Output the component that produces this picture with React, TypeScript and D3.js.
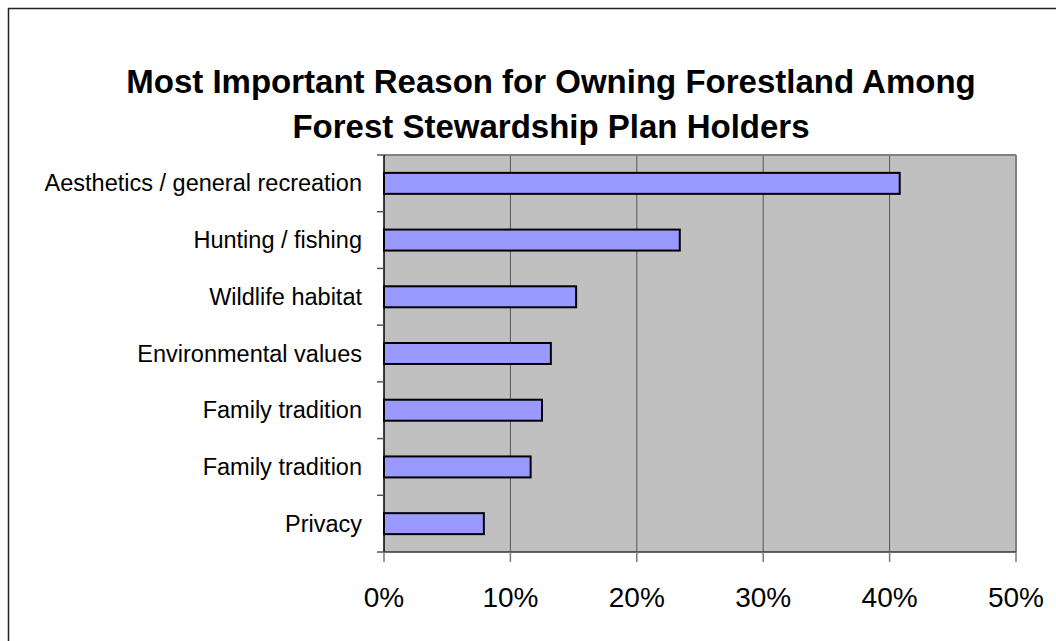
import React from 'react';
import * as d3 from 'd3';

const categories = [
  'Aesthetics / general recreation',
  'Hunting / fishing',
  'Wildlife habitat',
  'Environmental values',
  'Family tradition',
  'Family tradition',
  'Privacy',
];
const values = [0.408, 0.234, 0.152, 0.132, 0.125, 0.116, 0.079];
const xTicks = [0, 0.1, 0.2, 0.3, 0.4, 0.5];
const titleLines = [
  'Most Important Reason for Owning Forestland Among',
  'Forest Stewardship Plan Holders',
];

export default function App() {
  const W = 1056;
  const H = 641;
  const left = 384;
  const right = 1016;
  const top = 155;
  const bottom = 552;
  const font = '"Liberation Sans", Arial, sans-serif';

  const x = d3.scaleLinear().domain([0, 0.5]).range([left, right]);
  const keys = categories.map((_, i) => String(i));
  const y = d3
    .scaleBand<string>()
    .domain(keys)
    .range([top, bottom])
    .paddingInner(0.63)
    .paddingOuter(0.315);
  const step = (bottom - top) / categories.length;
  const fmt = d3.format('.0%');

  return (
    <svg
      width={W}
      height={H}
      style={{ position: 'absolute', left: 0, top: 0, display: 'block' }}
      fontFamily={font}
    >
      <rect x={0} y={0} width={W} height={H} fill="#fff" />
      <rect x={8.5} y={8.5} width={1070} height={660} fill="none" stroke="#222" strokeWidth={1.5} />
      {titleLines.map((t, i) => (
        <text
          key={i}
          x={551}
          y={93 + i * 45}
          textAnchor="middle"
          fontWeight="bold"
          fontSize={33}
          fill="#000"
        >
          {t}
        </text>
      ))}
      <rect x={left} y={top} width={right - left} height={bottom - top} fill="#c0c0c0" />
      {xTicks.slice(1).map((t) => (
        <line key={t} x1={x(t)} x2={x(t)} y1={top} y2={bottom} stroke="#555" strokeWidth={1} />
      ))}
      <line x1={left} x2={right} y1={top} y2={top} stroke="#808080" strokeWidth={2} />
      <line x1={right} x2={right} y1={top} y2={bottom} stroke="#808080" strokeWidth={2} />
      {values.map((v, i) => (
        <rect
          key={i}
          x={x(0)}
          y={y(String(i))}
          width={x(v) - x(0)}
          height={y.bandwidth()}
          fill="#9999ff"
          stroke="#000"
          strokeWidth={2}
        />
      ))}
      <line x1={left} x2={left} y1={top} y2={bottom} stroke="#000" strokeWidth={1.5} />
      <line x1={left} x2={right} y1={bottom} y2={bottom} stroke="#333" strokeWidth={1.5} />
      {d3.range(categories.length + 1).map((i) => (
        <line key={i} x1={left - 7} x2={left} y1={top + i * step} y2={top + i * step} stroke="#555" strokeWidth={1.5} />
      ))}
      {xTicks.map((t) => (
        <line key={t} x1={x(t)} x2={x(t)} y1={bottom} y2={bottom + 10} stroke="#777" strokeWidth={1.5} />
      ))}
      {xTicks.map((t) => (
        <text key={t} x={x(t)} y={607} textAnchor="middle" fontSize={28} fill="#000">
          {fmt(t)}
        </text>
      ))}
      {categories.map((c, i) => (
        <text
          key={i}
          x={362}
          y={(y(String(i)) as number) + y.bandwidth() / 2 + 8}
          textAnchor="end"
          fontSize={23.5}
          fill="#000"
        >
          {c}
        </text>
      ))}
    </svg>
  );
}
